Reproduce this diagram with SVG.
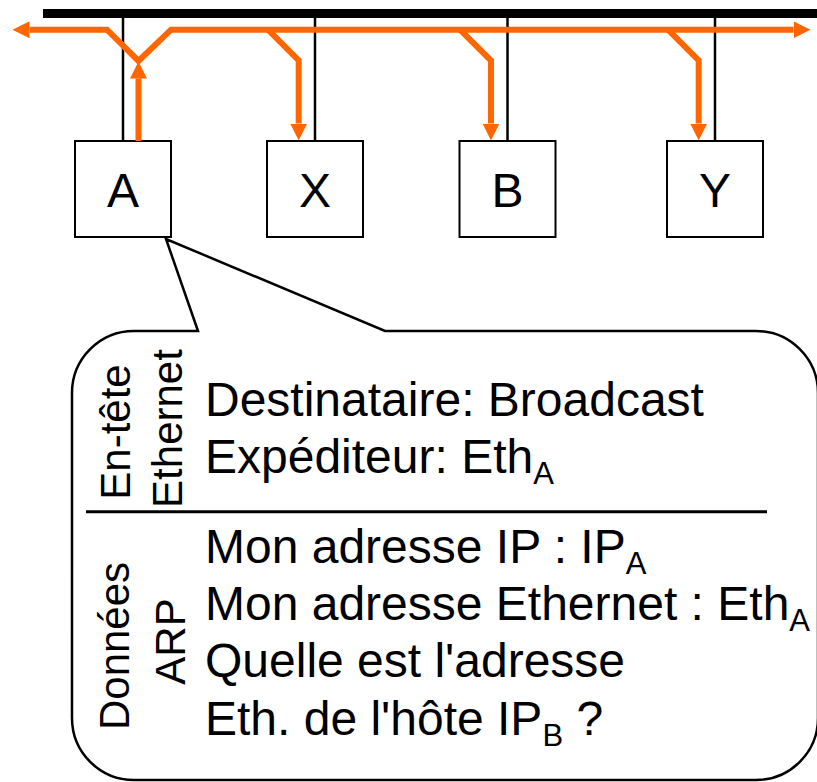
<svg xmlns="http://www.w3.org/2000/svg" width="817" height="782" viewBox="0 0 817 782">
  <style>
    .txt { font-family: "Liberation Sans", Arial, sans-serif; fill: #000; }
    .label { font-size: 48px; text-anchor: middle; }
    .body { font-size: 48px; }
    .side { font-size: 42px; text-anchor: middle; }
    .sub { font-size: 31px; }
    .host { fill: #fff; stroke: #000; stroke-width: 2; }
    .drop { stroke: #000; stroke-width: 2.5; fill: none; }
    .flow { stroke: #FF6600; stroke-width: 6; fill: none; stroke-linejoin: miter; stroke-linecap: butt; }
  </style>
  <defs>
    <marker id="head" viewBox="0 0 17 17" refX="0" refY="8.5" markerWidth="17" markerHeight="17" markerUnits="userSpaceOnUse" orient="auto-start-reverse">
      <path d="M0,0 L17,8.5 L0,17 Z" fill="#FF6600"/>
    </marker>
  </defs>

  <!-- shared Ethernet segment -->
  <rect id="bus" x="43" y="9" width="774" height="9" fill="#000"/>

  <!-- hosts -->
  <g id="host-A">
    <line class="drop" x1="123" y1="18" x2="123" y2="141"/>
    <rect class="host" x="75" y="141" width="96" height="96"/>
    <text class="txt label" x="123" y="207">A</text>
  </g>
  <g id="host-X">
    <line class="drop" x1="315" y1="18" x2="315" y2="141"/>
    <rect class="host" x="267" y="141" width="96" height="96"/>
    <text class="txt label" x="315" y="207">X</text>
  </g>
  <g id="host-B">
    <line class="drop" x1="507.5" y1="18" x2="507.5" y2="141"/>
    <rect class="host" x="459.5" y="141" width="96" height="96"/>
    <text class="txt label" x="507.5" y="207">B</text>
  </g>
  <g id="host-Y">
    <line class="drop" x1="715" y1="18" x2="715" y2="141"/>
    <rect class="host" x="667" y="141" width="96" height="96"/>
    <text class="txt label" x="715" y="207">Y</text>
  </g>

  <!-- broadcast frame propagation -->
  <g id="connectors">
    <polyline class="flow" points="29.5,29.7 107,29.7 138.5,61 171,29.7 793.5,29.7" marker-start="url(#head)" marker-end="url(#head)"/>
    <line class="flow" x1="138.5" y1="141" x2="138.5" y2="78.5" marker-end="url(#head)"/>
    <polyline class="flow" points="268,29.7 298.7,60.5 298.7,123.5" marker-end="url(#head)"/>
    <polyline class="flow" points="460,29.7 491,60.5 491,123.5" marker-end="url(#head)"/>
    <polyline class="flow" points="668,29.7 698.7,60.5 698.7,123.5" marker-end="url(#head)"/>
  </g>

  <!-- ARP request frame sent by A -->
  <g id="frame">
    <path d="M198,331 L166,239 L385,331 L756,331 A62,62 0 0 1 818,393 L818,718 A62,62 0 0 1 756,780 L134,780 A62,62 0 0 1 72,718 L72,393 A62,62 0 0 1 134,331 Z" fill="#fff" stroke="#000" stroke-width="2.5" stroke-linejoin="miter"/>
    <line x1="86" y1="511.7" x2="767" y2="511.7" stroke="#000" stroke-width="3"/>

    <text class="txt side" transform="translate(130,432) rotate(-90)">En-tête</text>
    <text class="txt side" transform="translate(182,428.5) rotate(-90)">Ethernet</text>
    <text class="txt side" transform="translate(128.5,646) rotate(-90)">Données</text>
    <text class="txt side" transform="translate(185,641.5) rotate(-90)">ARP</text>

    <text class="txt body" x="205" y="416">Destinataire: Broadcast</text>
    <text class="txt body" x="205" y="473">Expéditeur: Eth<tspan class="sub" dy="11">A</tspan></text>
    <text class="txt body" x="205" y="563">Mon adresse IP : IP<tspan class="sub" dy="11">A</tspan></text>
    <text class="txt body" x="205" y="620">Mon adresse Ethernet : Eth<tspan class="sub" dy="11">A</tspan></text>
    <text class="txt body" x="205" y="677">Quelle est l'adresse</text>
    <text class="txt body" x="205" y="735">Eth. de l'hôte IP<tspan class="sub" dy="11">B</tspan><tspan dy="-11"> ?</tspan></text>
  </g>
</svg>
